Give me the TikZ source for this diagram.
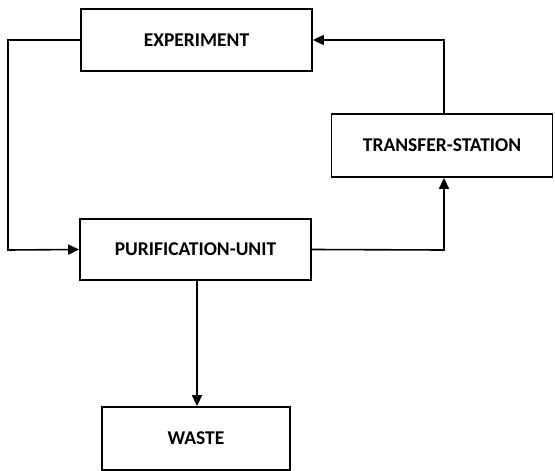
\documentclass[tikz,border=0pt]{standalone}
\usepackage{fontspec}
\setmainfont{Carlito}
\usetikzlibrary{arrows.meta}
\begin{document}
\begin{tikzpicture}[x=1pt,y=-1pt,
  box/.style={draw,line width=1.8pt,inner sep=0pt,font=\bfseries\fontsize{19.5}{22}\selectfont},
  flow/.style={line width=1.6pt,-{Triangle[length=11pt,width=10pt]}}]
\useasboundingbox (0,0) rectangle (555,471);
\node[box,minimum width=231pt,minimum height=62pt] (exp) at (196.5,40) {EXPERIMENT};
\node[box,minimum width=231pt,minimum height=61pt] (pur) at (195.5,249.5) {PURIFICATION-UNIT};
\node[box,minimum width=221pt,minimum height=63pt] (tra) at (442,145.5) {TRANSFER-STATION};
\node[box,minimum width=188pt,minimum height=63pt] (was) at (196,438.5) {WASTE};
\draw[flow] (exp.west) -- (8,40) -- (8,250) -- (pur.west);
\draw[flow] (pur.east) -- (444,250) -- (tra.south -| 444,0);
\draw[flow] (tra.north -| 444,0) -- (444,40) -- (exp.east);
\draw[flow] (pur.south -| 197,0) -- (was.north -| 197,0);
\end{tikzpicture}
\end{document}
